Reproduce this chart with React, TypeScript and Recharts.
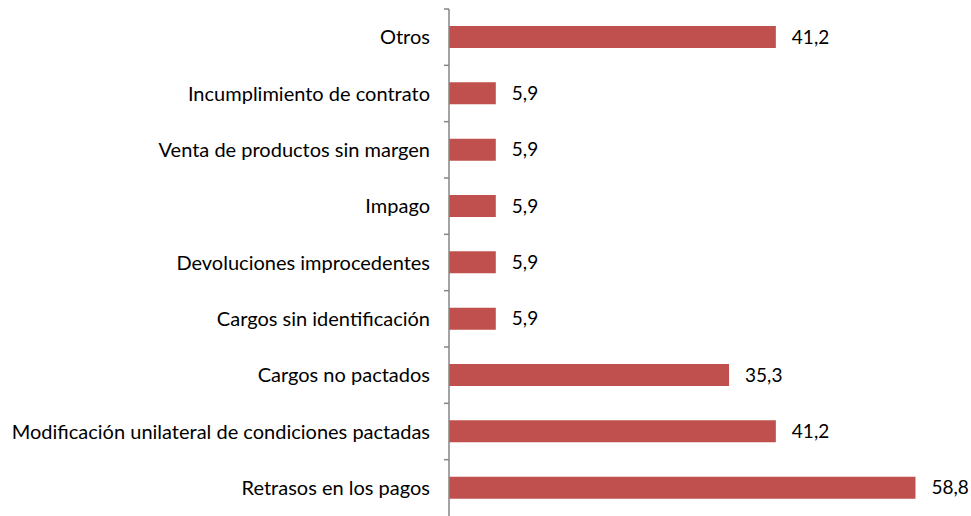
import { BarChart, Bar, XAxis, YAxis, LabelList } from "recharts";

const categories = [
    "Otros",
    "Incumplimiento de contrato",
    "Venta de productos sin margen",
    "Impago",
    "Devoluciones improcedentes",
    "Cargos sin identificación",
    "Cargos no pactados",
    "Modificación unilateral de condiciones pactadas",
    "Retrasos en los pagos",
];

const values = [41.2, 5.9, 5.9, 5.9, 5.9, 5.9, 35.3, 41.2, 58.8];

const data = categories.map((name, i) => ({ name, value: values[i] }));

const FONT = "Lato, 'Open Sans', sans-serif";

// label plus a tick mark on the top edge of each band
const CategoryTick = ({ x, y, payload }: any) => {
    const half = payload?.offset ?? 0;
    return (
        <g>
            <line x1={x + 13} x2={x + 18} y1={y - half} y2={y - half} stroke="#868686" strokeWidth={1.5} />
            <text x={x - 1} y={y} dy={7} textAnchor="end" fill="#000" fontSize={20} fontFamily={FONT}>
                {payload.value}
            </text>
        </g>
    );
};

export default function App() {
    return (
        <div style={{ width: 971, height: 516, background: "#fff" }}>
            <style>{`body{margin:0}`}</style>
            <BarChart
                width={971}
                height={516}
                data={data}
                layout="vertical"
                margin={{ top: 9, right: 46, left: 0, bottom: 0 }}
            >
                <XAxis type="number" domain={[0, 60]} hide />
                <YAxis
                    type="category"
                    dataKey="name"
                    width={449}
                    axisLine={{ stroke: "#868686", strokeWidth: 1.5 }}
                    tickLine={false}
                    tickSize={5}
                    tickMargin={13}
                    interval={0}
                    tick={<CategoryTick />}
                />
                <Bar dataKey="value" fill="#C0504D" barSize={22} isAnimationActive={false}>
                    <LabelList
                        dataKey="value"
                        position="right"
                        offset={16}
                        formatter={(v: any) => Number(v).toFixed(1).replace(".", ",")}
                        style={{ fontSize: 19, fontFamily: FONT, fill: "#000" }}
                    />
                </Bar>
            </BarChart>
        </div>
    );
}
